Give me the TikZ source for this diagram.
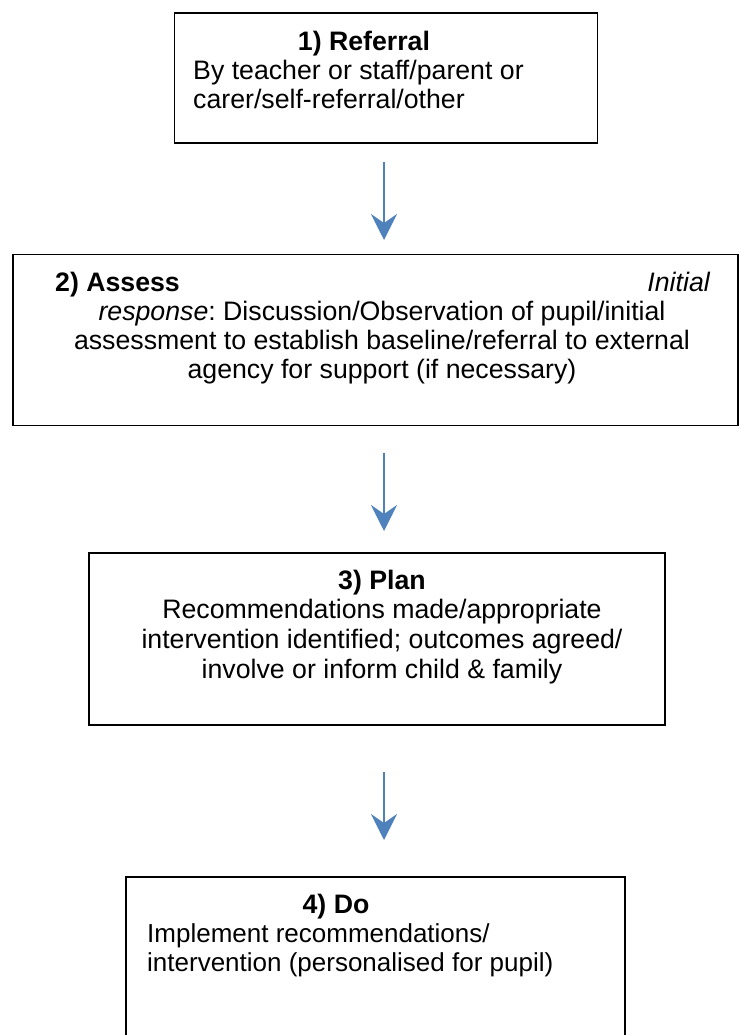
\documentclass[tikz,border=0pt]{standalone}
\usepackage{fontspec}
\setmainfont{Liberation Sans}
\usetikzlibrary{arrows.meta}
\definecolor{arrowblue}{RGB}{79,129,189}
\frenchspacing
\begin{document}
\begin{tikzpicture}[x=1pt,y=-1pt,
  box/.style={draw=black,line width=1.3pt,inner sep=0pt},
  txt/.style={inner sep=0pt,anchor=base,font=\fontsize{26.7}{30}\selectfont},
  head/.style={txt,font=\fontsize{26.7}{30}\selectfont\bfseries},
  txtsm/.style={txt,font=\fontsize{26}{30}\selectfont},
  arr/.style={draw=arrowblue,line width=2pt,-{Stealth[length=26pt,width=26pt,inset=9pt]}}]
\useasboundingbox (0,0) rectangle (739,1035);
\clip (0,0) rectangle (739,1035);
% boxes
\node[box,minimum width=423pt,minimum height=130pt] (b1) at (386,78) {};
\node[box,minimum width=725pt,minimum height=171pt] (b2) at (375.5,340) {};
\node[box,minimum width=576pt,minimum height=172pt] (b3) at (377,639) {};
\node[box,minimum width=499pt,minimum height=200pt] (b4) at (375.5,977) {};
% box 1 text
\node[head] (t1h) at (364,51) {1) Referral};
\node[txt,anchor=base west] (t1a) at (193,80) {By teacher or staff/parent or};
\node[txt,anchor=base west] (t1b) at (193,109) {carer/self-referral/other};
% box 2 text
\node[head,anchor=base west] (t2h) at (55,291) {2) Assess};
\node[txt,anchor=base east] (t2i) at (710,291) {\itshape Initial};
\node[txt] (t2a) at (382,320) {\textit{response}: Discussion/Observation of pupil/initial};
\node[txt] (t2b) at (382,349) {assessment to establish baseline/referral to external};
\node[txt] (t2c) at (382,378) {agency for support (if necessary)};
% box 3 text
\node[head] (t3h) at (382,589) {3) Plan};
\node[txt] (t3a) at (382,618) {Recommendations made/appropriate};
\node[txt] (t3b) at (382,648) {intervention identified; outcomes agreed/};
\node[txt] (t3c) at (382,678) {involve or inform child \& family};
% box 4 text
\node[head] (t4h) at (336,913) {4) Do};
\node[txtsm,anchor=base west] (t4a) at (147,942) {Implement recommendations/};
\node[txtsm,anchor=base west] (t4b) at (147,971) {intervention (personalised for pupil)};
% arrows
\coordinate (a1s) at (384,162); \coordinate (a1e) at (384,240);
\coordinate (a2s) at (384,453); \coordinate (a2e) at (384,531);
\coordinate (a3s) at (384,772); \coordinate (a3e) at (384,840);
\draw[arr] (a1s) -- (a1e);
\draw[arr] (a2s) -- (a2e);
\draw[arr] (a3s) -- (a3e);
\end{tikzpicture}
\end{document}
